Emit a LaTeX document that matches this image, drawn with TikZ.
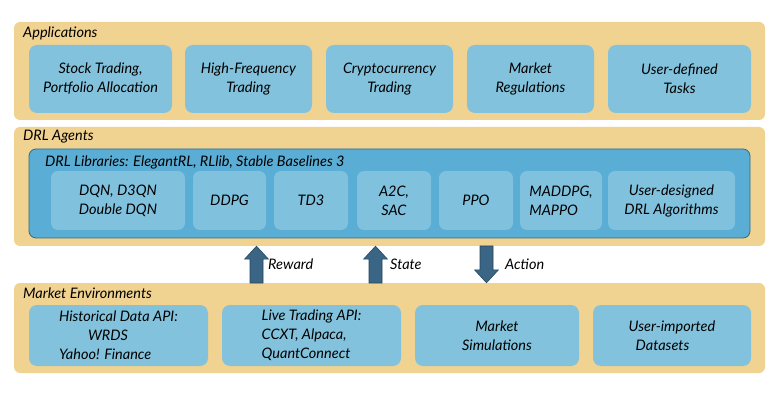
\documentclass[tikz,border=0pt]{standalone}
\usepackage{fontspec}
\setmainfont{Lato}
\usetikzlibrary{calc}
\definecolor{panelc}{HTML}{F0D291}
\definecolor{boxc}{HTML}{83C2DC}
\definecolor{innerc}{HTML}{5AADD5}
\definecolor{innerb}{HTML}{2C6C8E}
\definecolor{subc}{HTML}{80C1DE}
\definecolor{arrowc}{HTML}{3B6584}
\definecolor{arrowb}{HTML}{24465F}
\tikzset{
  panel/.style={fill=panelc, rounded corners=6pt, inner sep=0pt},
  appbox/.style={fill=boxc, rounded corners=8pt, align=center, inner sep=0pt, minimum height=68pt},
  envbox/.style={fill=boxc, rounded corners=8pt, inner sep=0pt, minimum height=61pt},
  subbox/.style={fill=subc, rounded corners=7pt, align=center, inner sep=0pt, minimum height=59pt},
  innerpanel/.style={fill=innerc, draw=innerb, line width=0.8pt, rounded corners=7pt, inner sep=0pt},
  ttl/.style={anchor=west, inner sep=0pt},
  blockarrow/.style={fill=arrowc, draw=arrowb, line width=0.6pt, line join=miter},
  lbl/.style={anchor=west, inner sep=0pt},
}
\begin{document}
\begin{tikzpicture}[x=1pt,y=-1pt, font=\fontsize{14.5}{19}\selectfont\itshape]
\useasboundingbox (0,0) rectangle (780,417);
% panels
\node[panel, minimum width=751pt, minimum height=98pt] (apps) at (389.5,71) {};
\node[panel, minimum width=751pt, minimum height=119pt] (agents) at (389.5,186.5) {};
\node[panel, minimum width=751pt, minimum height=90pt] (envs) at (389.5,328) {};
\node[ttl] (appst) at (23,33) {Applications};
\node[ttl] (agentst) at (23,137) {DRL Agents};
\node[ttl] (envst) at (23,293) {Market Environments};
% applications
\node[appbox, minimum width=143pt] (a1) at (100.5,79) {Stock Trading,\\Portfolio Allocation};
\node[appbox, minimum width=127pt] (a2) at (248.5,79) {High-Frequency\\Trading};
\node[appbox, minimum width=127pt] (a3) at (389.5,79) {Cryptocurrency\\Trading};
\node[appbox, minimum width=127pt] (a4) at (530.5,79) {Market\\Regulations};
\node[appbox, minimum width=143pt] (a5) at (679.5,79) {User-defined\\Tasks};
% agents
\node[innerpanel, minimum width=721pt, minimum height=89pt] (lib) at (389.5,193.5) {};
\node[ttl] (libt) at (45,162) {DRL Libraries: ElegantRL, RLlib, Stable Baselines 3};
\node[subbox, minimum width=134pt] (s1) at (118,200.5) {DQN, D3QN\\Double DQN};
\node[subbox, minimum width=73pt] (s2) at (229.5,200.5) {DDPG};
\node[subbox, minimum width=74pt] (s3) at (311,200.5) {TD3};
\node[subbox, minimum width=74pt] (s4) at (394,200.5) {A2C,\\SAC};
\node[subbox, minimum width=74pt] (s5) at (476,200.5) {PPO};
\node[subbox, minimum width=82pt, align=left] (s6) at (561,200.5) {MADDPG,\\MAPPO};
\node[subbox, minimum width=127pt] (s7) at (671.5,200.5) {User-designed\\DRL Algorithms};
% environments
\node[envbox, minimum width=179pt, align=left] (e1) at (118.5,335.5) {Historical Data API:\\\hspace*{29pt}WRDS\\Yahoo! Finance};
\node[envbox, minimum width=179pt, align=left] (e2) at (311.5,335.5) {Live Trading API:\\CCXT, Alpaca,\\QuantConnect};
\node[envbox, minimum width=164pt, align=center] (e3) at (497,335.5) {Market\\Simulations};
\node[envbox, minimum width=158pt, align=left] (e4) at (672,335.5) {User-imported\\\hspace*{7pt}Datasets};
% block arrows
\coordinate (rwb) at (256.5,283);
\coordinate (stb) at (375.5,283);
\coordinate (act) at (486.5,246);
\coordinate (rwt) at (rwb |- agents.south);
\coordinate (stt) at (stb |- agents.south);
\coordinate (acb) at (act |- envs.north);
\draw[blockarrow] ($(rwb)+(-6.5,0)$) -- ($(rwt)+(-6.5,13)$) -- ($(rwt)+(-12,13)$) -- (rwt)
  -- ($(rwt)+(12,13)$) -- ($(rwt)+(6.5,13)$) -- ($(rwb)+(6.5,0)$) -- cycle;
\draw[blockarrow] ($(stb)+(-6.5,0)$) -- ($(stt)+(-6.5,13)$) -- ($(stt)+(-12,13)$) -- (stt)
  -- ($(stt)+(12,13)$) -- ($(stt)+(6.5,13)$) -- ($(stb)+(6.5,0)$) -- cycle;
\draw[blockarrow] ($(act)+(-6.5,0)$) -- ($(acb)+(-6.5,-13)$) -- ($(acb)+(-12,-13)$) -- (acb)
  -- ($(acb)+(12,-13)$) -- ($(acb)+(6.5,-13)$) -- ($(act)+(6.5,0)$) -- cycle;
\node[lbl] (rwl) at (268,264) {Reward};
\node[lbl] (stl) at (390,264) {State};
\node[lbl] (acl) at (505,264) {Action};
\end{tikzpicture}
\end{document}
